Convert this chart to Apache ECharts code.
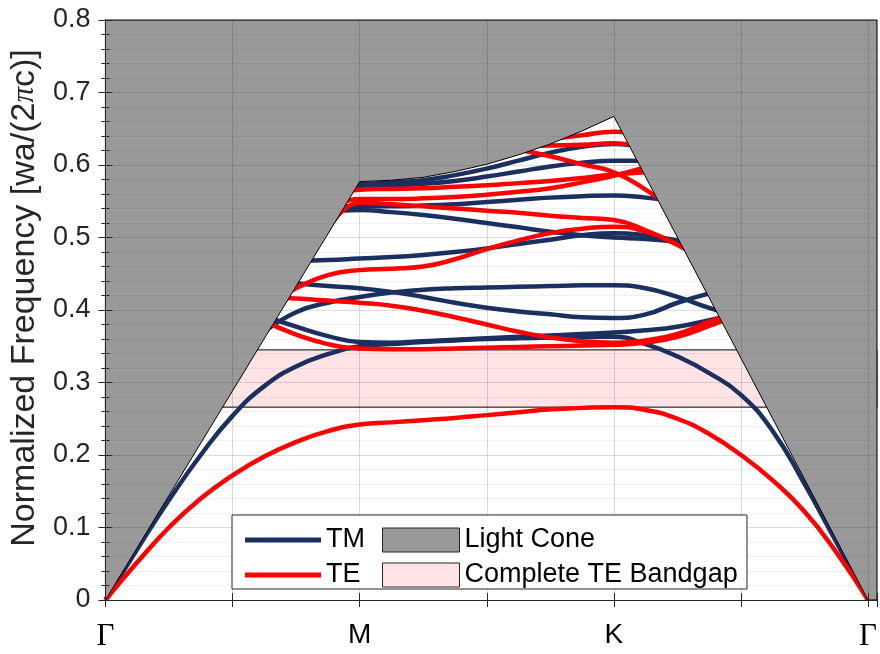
<!DOCTYPE html>
<html>
<head>
<meta charset="utf-8">
<script src="https://cdn.jsdelivr.net/npm/echarts@6/dist/echarts.min.js"></script>
<style>
  html, body { margin: 0; padding: 0; background: #ffffff; }
  #chart { width: 880px; height: 654px; }
</style>
</head>
<body>
<div id="chart"></div>
<script>
// Position along the Γ–M–K–Γ path (Γ = 0, M = 2, K = 4, Γ = 6)
const kPath = [0, 0.25, 0.5, 0.75, 1, 1.25, 1.5, 1.75, 2, 2.25, 2.5, 2.75, 3,
               3.25, 3.5, 3.75, 4, 4.25, 4.5, 4.75, 5, 5.25, 5.5, 5.75, 6];
const kTickPos = [0, 2, 4, 6];
const kTickNames = ['Γ', 'M', 'K', 'Γ'];
const yTicks = [0, 0.1, 0.2, 0.3, 0.4, 0.5, 0.6, 0.7, 0.8];

// Light line (upper edge of the guided region)
const lightX = [0, 2, 2.25, 2.5, 2.75, 3, 3.25, 3.5, 3.75, 4, 6];
const lightY = [0, 0.577, 0.579, 0.583, 0.591, 0.601, 0.614, 0.629, 0.647, 0.667, 0];

// Complete TE bandgap edges
const gapBottom = 0.266;
const gapTop = 0.345;

const N = null;
// TM bands (normalized frequency at each kPath point)
const tm1 = [0, 0.07, 0.138, 0.2, 0.254, 0.295, 0.322, 0.339, 0.35, 0.353, 0.356, 0.358, 0.36, 0.361, 0.362, 0.363, 0.363, 0.353, 0.336, 0.313, 0.283, 0.233, 0.16, 0.08, 0];
const tm2 = [N, N, N, N, N, 0.392, 0.377, 0.364, 0.356, 0.355, 0.357, 0.359, 0.361, 0.363, 0.365, 0.367, 0.369, 0.372, 0.377, 0.386, 0.396, N, N, N, N];
const tm3 = [N, N, N, N, N, 0.37, 0.397, 0.41, 0.418, 0.424, 0.428, 0.43, 0.431, 0.432, 0.433, 0.434, 0.434, 0.43, 0.418, 0.403, 0.39, N, N, N, N];
const tm4 = [N, N, N, N, N, N, 0.437, 0.433, 0.43, 0.425, 0.418, 0.41, 0.403, 0.398, 0.394, 0.39, 0.389, 0.394, 0.41, 0.423, 0.435, N, N, N, N];
const tm5 = [N, N, N, N, N, N, 0.468, 0.469, 0.471, 0.473, 0.476, 0.48, 0.485, 0.491, 0.497, 0.503, 0.506, 0.503, 0.496, 0.488, N, N, N, N, N];
const tm6 = [N, N, N, N, N, N, N, 0.535, 0.538, 0.535, 0.531, 0.526, 0.52, 0.514, 0.508, 0.503, 0.5, 0.498, 0.494, 0.49, N, N, N, N, N];
const tm7 = [N, N, N, N, N, N, N, 0.543, 0.543, 0.543, 0.544, 0.546, 0.549, 0.552, 0.555, 0.557, 0.558, 0.555, 0.55, N, N, N, N, N, N];
const tm8 = [N, N, N, N, N, N, N, 0.57, 0.571, 0.572, 0.574, 0.578, 0.584, 0.591, 0.598, 0.603, 0.606, 0.606, 0.6, N, N, N, N, N, N];
const tm9 = [N, N, N, N, N, N, N, 0.574, 0.574, 0.576, 0.579, 0.586, 0.595, 0.606, 0.617, 0.625, 0.629, 0.623, N, N, N, N, N, N, N];

// TE bands
const te1 = [0, 0.052, 0.1, 0.14, 0.172, 0.198, 0.218, 0.233, 0.242, 0.245, 0.248, 0.251, 0.255, 0.259, 0.263, 0.265, 0.266, 0.262, 0.25, 0.229, 0.2, 0.165, 0.122, 0.066, 0];
const te2 = [N, N, N, N, N, 0.385, 0.366, 0.353, 0.347, 0.346, 0.346, 0.347, 0.348, 0.349, 0.35, 0.351, 0.352, 0.355, 0.363, 0.378, 0.395, N, N, N, N];
const te3 = [N, N, N, N, N, 0.418, 0.416, 0.413, 0.41, 0.406, 0.399, 0.39, 0.38, 0.37, 0.362, 0.357, 0.355, 0.358, 0.367, 0.384, 0.4, N, N, N, N];
const te4 = [N, N, N, N, N, 0.405, 0.43, 0.448, 0.455, 0.457, 0.46, 0.47, 0.484, 0.496, 0.506, 0.512, 0.515, 0.508, 0.49, 0.465, N, N, N, N, N];
const te5 = [N, N, N, N, N, N, N, 0.51, 0.548, 0.546, 0.543, 0.54, 0.537, 0.534, 0.53, 0.527, 0.524, 0.51, 0.49, 0.465, N, N, N, N, N];
const te6 = [N, N, N, N, N, N, N, 0.54, 0.553, 0.553, 0.554, 0.556, 0.559, 0.563, 0.568, 0.576, 0.585, 0.597, 0.61, N, N, N, N, N, N];
const te7 = [N, N, N, N, N, N, N, 0.56, 0.566, 0.567, 0.568, 0.57, 0.572, 0.575, 0.578, 0.582, 0.587, 0.59, N, N, N, N, N, N, N];
const te8 = [N, N, N, N, N, N, N, N, N, N, N, N, N, 0.621, 0.612, 0.601, 0.59, 0.566, 0.535, N, N, N, N, N, N];
const te9 = [N, N, N, N, N, N, N, N, N, N, N, N, N, 0.626, 0.627, 0.628, 0.63, 0.625, N, N, N, N, N, N, N];
const te10 = [N, N, N, N, N, N, N, N, N, N, N, N, N, N, 0.636, 0.641, 0.646, 0.64, N, N, N, N, N, N, N];

const tmBands = [tm1, tm2, tm3, tm4, tm5, tm6, tm7, tm8, tm9];
const teBands = [te1, te2, te3, te4, te5, te6, te7, te8, te9, te10];

const TM_COLOR = '#1b3060';
const TE_COLOR = '#ff0000';
const CONE_COLOR = '#999999';
const GAP_COLOR = '#ffe3e5';
const AXIS_COLOR = '#262626';
const FONT = '"Liberation Sans", Arial, Helvetica, sans-serif';
const SERIF = '"Liberation Serif", "DejaVu Serif", serif';
const X_MAX = 6.07;
const Y_MAX = 0.8;

function pairs(values) {
  return kPath.map((k, i) => [k, values[i]]).filter(p => p[1] !== null);
}

function bandSeries(values, name, color) {
  return {
    type: 'line',
    name: name,
    data: pairs(values),
    smooth: 0.5,
    showSymbol: false,
    silent: true,
    z: 2,
    lineStyle: { color: color, width: 4.5 },
    itemStyle: { color: color }
  };
}

const series = [];

// TE bandgap strip (the cone polygon covers the part outside the light line)
series.push({
  type: 'custom',
  name: 'Complete TE Bandgap',
  silent: true,
  z: 1,
  itemStyle: { color: GAP_COLOR },
  data: [[0, gapBottom]],
  renderItem: function (params, api) {
    const p0 = api.coord([0, gapTop]);
    const p1 = api.coord([X_MAX, gapBottom]);
    return {
      type: 'rect',
      shape: { x: p0[0], y: p0[1], width: p1[0] - p0[0], height: p1[1] - p0[1] },
      style: { fill: GAP_COLOR, stroke: '#000000', lineWidth: 1 }
    };
  }
});

tmBands.forEach(b => series.push(bandSeries(b, 'TM', TM_COLOR)));
teBands.forEach(b => series.push(bandSeries(b, 'TE', TE_COLOR)));

// Light cone: everything above the light line
series.push({
  type: 'custom',
  name: 'Light Cone',
  silent: true,
  z: 3,
  itemStyle: { color: CONE_COLOR },
  data: [[0, 0]],
  renderItem: function (params, api) {
    const pts = [[0, Y_MAX]]
      .concat(lightX.map((x, i) => [x, lightY[i]]))
      .concat([[X_MAX, 0], [X_MAX, Y_MAX]])
      .map(p => api.coord(p));
    return {
      type: 'polygon',
      shape: { points: pts },
      style: { fill: CONE_COLOR, stroke: '#000000', lineWidth: 1 }
    };
  }
});

const axisLine = { show: true, lineStyle: { color: AXIS_COLOR, width: 1 } };

const option = {
  animation: false,
  backgroundColor: '#ffffff',
  textStyle: { fontFamily: FONT },
  grid: { left: 103, right: 1, top: 20, bottom: 54, containLabel: false },
  xAxis: [
    {
      type: 'value', min: 0, max: X_MAX, interval: 1, z: 4,
      axisLine: axisLine,
      axisTick: { show: true, inside: true, length: 7, lineStyle: { color: AXIS_COLOR } },
      splitLine: { show: true, lineStyle: { color: 'rgba(38,38,38,0.18)', width: 1 } },
      axisLabel: {
        margin: 21, color: '#000000',
        formatter: function (v) {
          const idx = kTickPos.findIndex(p => Math.abs(p - v) < 1e-6);
          if (idx < 0) return '';
          const t = kTickNames[idx];
          return t === 'Γ' ? '{g|Γ}' : '{s|' + t + '}';
        },
        rich: {
          g: { fontFamily: SERIF, fontSize: 31, color: '#000000' },
          s: { fontFamily: FONT, fontSize: 28, color: '#000000' }
        }
      }
    },
    {
      type: 'value', position: 'top', min: 0, max: X_MAX, interval: 1, z: 4,
      axisLine: axisLine,
      axisTick: { show: true, inside: true, length: 7, lineStyle: { color: AXIS_COLOR } },
      splitLine: { show: false },
      axisLabel: { show: false }
    }
  ],
  yAxis: [
    {
      type: 'value', min: 0, max: Y_MAX, interval: 0.1, z: 4,
      name: '{t|Normalized Frequency [wa/(2}{pi|π}{t|c)]}',
      nameLocation: 'middle', nameGap: 58, nameRotate: 90,
      nameTextStyle: {
        fontSize: 34, color: '#262626', fontFamily: FONT,
        padding: [0, 0, 0, 24],
        rich: {
          t: { fontSize: 34, fontFamily: FONT, color: '#262626' },
          pi: { fontSize: 31, fontFamily: SERIF, fontStyle: 'italic', color: '#262626' }
        }
      },
      axisLine: axisLine,
      axisTick: { show: true, inside: true, length: 7, lineStyle: { color: AXIS_COLOR } },
      minorTick: { show: true, splitNumber: 5, length: 4, lineStyle: { color: AXIS_COLOR } },
      splitLine: { show: true, lineStyle: { color: 'rgba(38,38,38,0.16)', width: 1 } },
      minorSplitLine: { show: true, lineStyle: { color: 'rgba(38,38,38,0.07)', width: 1 } },
      axisLabel: {
        margin: 15, fontSize: 27, color: '#262626', fontFamily: FONT,
        formatter: function (v) {
          const t = yTicks.find(y => Math.abs(y - v) < 1e-6);
          if (t === undefined) return '';
          return t === 0 ? '0' : t.toFixed(1);
        }
      }
    },
    {
      type: 'value', position: 'right', min: 0, max: Y_MAX, interval: 0.1, z: 4,
      axisLine: axisLine,
      axisTick: { show: true, inside: true, length: 7, lineStyle: { color: AXIS_COLOR } },
      minorTick: { show: true, splitNumber: 5, length: 4, lineStyle: { color: AXIS_COLOR } },
      splitLine: { show: false },
      axisLabel: { show: false }
    }
  ],
  legend: [
    {
      data: ['TM', 'TE'],
      orient: 'vertical', left: 240, top: 520, itemGap: 5, z: 60,
      icon: 'rect', itemWidth: 76, itemHeight: 5,
      itemStyle: { borderWidth: 0 },
      selectedMode: false,
      textStyle: { fontSize: 27, color: '#000000', fontFamily: FONT, lineHeight: 30 }
    },
    {
      data: ['Light Cone', 'Complete TE Bandgap'],
      orient: 'vertical', left: 377, top: 520, itemGap: 5, z: 60,
      icon: 'rect', itemWidth: 77, itemHeight: 24,
      itemStyle: { borderColor: '#262626', borderWidth: 1 },
      selectedMode: false,
      textStyle: { fontSize: 27, color: '#000000', fontFamily: FONT, lineHeight: 30 }
    }
  ],
  graphic: [
    {
      type: 'rect', z: 50,
      shape: { x: 232, y: 515, width: 515, height: 74 },
      style: { fill: '#ffffff', stroke: '#262626', lineWidth: 1 }
    }
  ],
  series: series
};

const chart = echarts.init(document.getElementById('chart'), null, { renderer: 'canvas' });
chart.setOption(option);
</script>
</body>
</html>
